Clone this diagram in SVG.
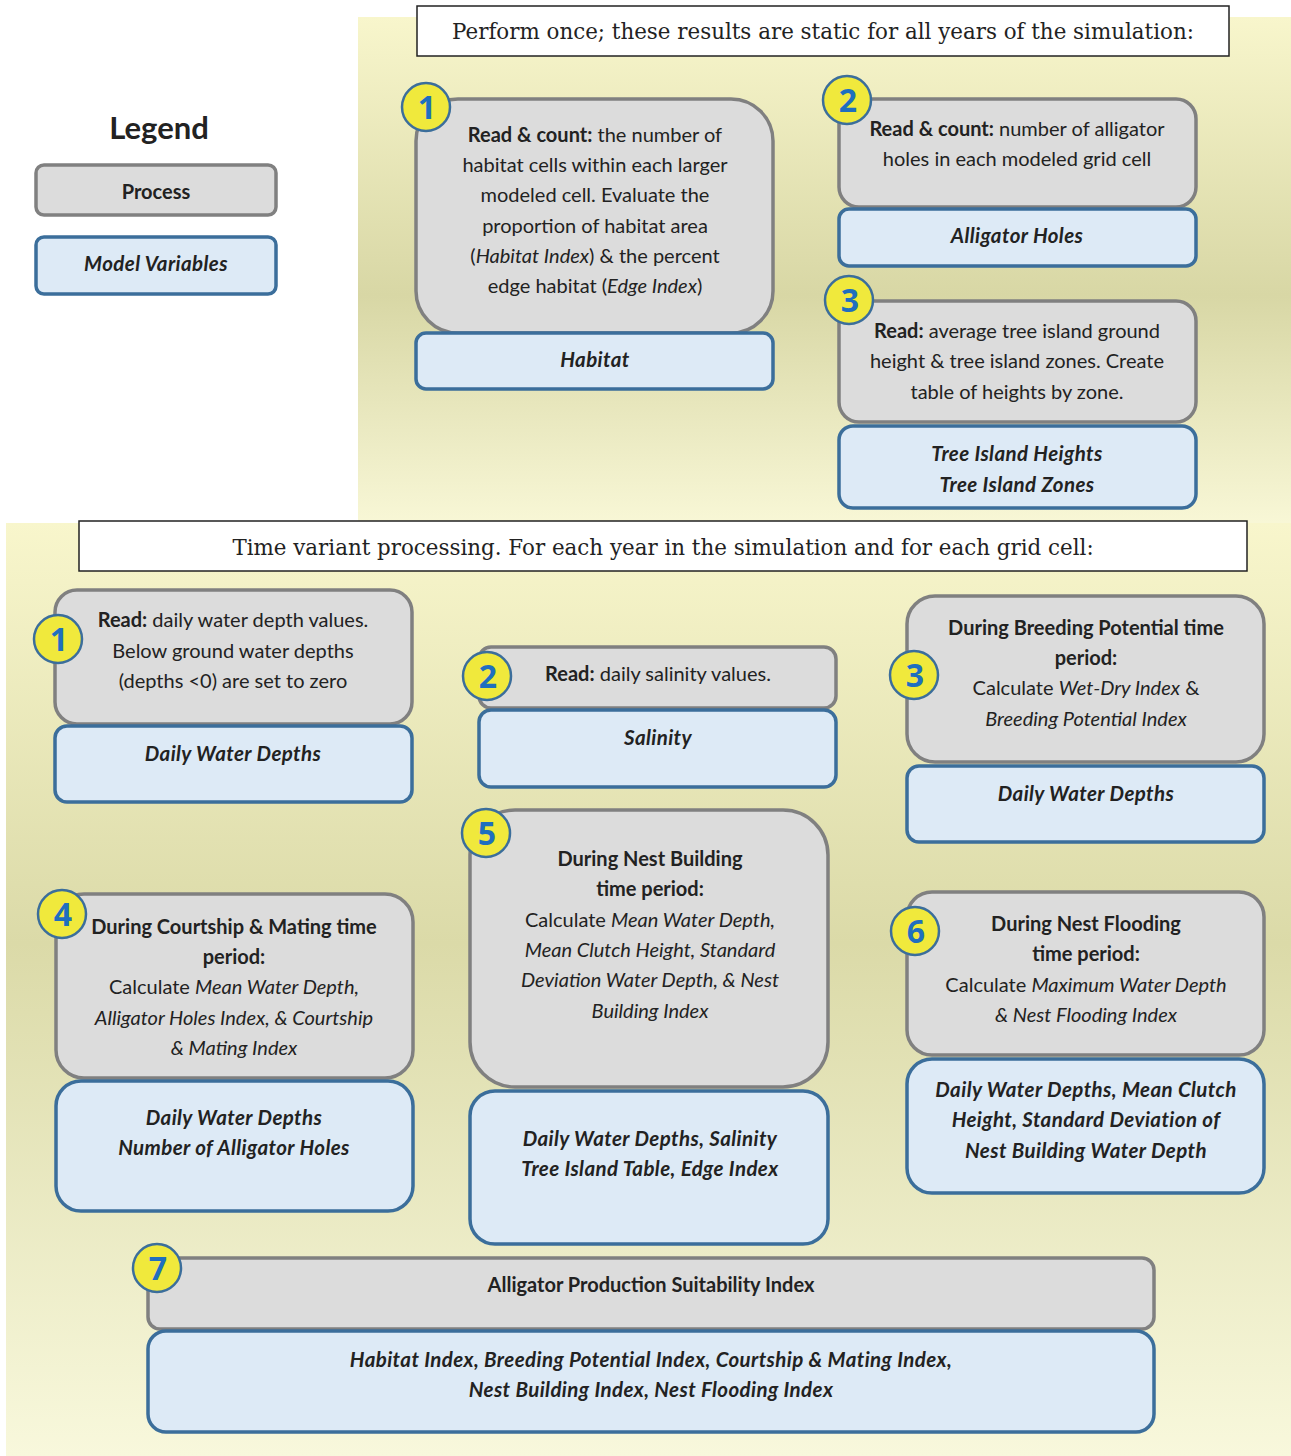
<svg xmlns="http://www.w3.org/2000/svg" width="1291" height="1456" viewBox="0 0 1291 1456">
<defs>
<linearGradient id="bgTop" x1="0" y1="0" x2="0" y2="1">
<stop offset="0" stop-color="#f8f6cc"/>
<stop offset="0.55" stop-color="#d8d7a5"/>
<stop offset="1" stop-color="#f8f7d6"/>
</linearGradient>
<linearGradient id="bgBot" x1="0" y1="0" x2="0" y2="1">
<stop offset="0" stop-color="#f8f6cc"/>
<stop offset="0.45" stop-color="#dbdaa8"/>
<stop offset="1" stop-color="#f8f8dc"/>
</linearGradient>
</defs>
<style>
.proc{fill:#dcdcdc;stroke:#808080;stroke-width:3.5}
.var{fill:#ddeaf6;stroke:#3b6e9b;stroke-width:3.5}
.title{fill:#fff;stroke:#222;stroke-width:1.5}
.tt{font-family:"DejaVu Serif","Liberation Serif",serif;font-size:21.4px;fill:#222;text-anchor:middle}
.t{font-family:Lato,"Open Sans",sans-serif;font-size:20px;fill:#222;text-anchor:middle}
.v{font-family:Lato,"Open Sans",sans-serif;font-size:20.5px;letter-spacing:0.4px;fill:#222;text-anchor:middle;font-style:italic;font-weight:bold}
.b{font-weight:bold}
.i{font-style:italic}
.num circle{fill:#f0e93c;stroke:#3b6e9b;stroke-width:2.5}
.num text{font-family:"Open Sans",Lato,sans-serif;font-size:32px;font-weight:bold;fill:#1f6fbf;text-anchor:middle}
</style>
<rect x="0" y="0" width="1291" height="1456" fill="#ffffff"/>
<rect x="358" y="17" width="933" height="506" fill="url(#bgTop)"/>
<rect x="6" y="523" width="1285" height="933" fill="url(#bgBot)"/>

<g id="title-top">
<rect class="title" x="417" y="6" width="812" height="50"/>
<text class="tt" x="823" y="39">Perform once; these results are static for all years of the simulation:</text>
</g>
<g id="title-bottom">
<rect class="title" x="79" y="521" width="1168" height="50"/>
<text class="tt" x="663" y="555">Time variant processing. For each year in the simulation and for each grid cell:</text>
</g>

<g id="legend">
<text x="159" y="139" font-family="Lato,'Open Sans',sans-serif" font-size="31" font-weight="bold" fill="#222" text-anchor="middle">Legend</text>
<rect class="proc" x="36" y="165" width="240" height="50" rx="8"/>
<text class="t b" x="156" y="199">Process</text>
<rect class="var" x="36" y="237" width="240" height="57" rx="8"/>
<text class="v" x="156" y="271">Model Variables</text>
</g>

<g id="s1">
<rect class="proc" x="416" y="99" width="357" height="234" rx="42"/>
<text class="t" x="595" y="142"><tspan class="b">Read &amp; count:</tspan> the number of</text>
<text class="t" x="595" y="172">habitat cells within each larger</text>
<text class="t" x="595" y="202">modeled cell. Evaluate the</text>
<text class="t" x="595" y="233">proportion of habitat area</text>
<text class="t" x="595" y="263">(<tspan class="i">Habitat Index</tspan>) &amp; the percent</text>
<text class="t" x="595" y="293">edge habitat (<tspan class="i">Edge Index</tspan>)</text>
<rect class="var" x="416" y="333" width="357" height="56" rx="10"/>
<text class="v" x="595" y="367">Habitat</text>
<g class="num"><circle cx="426" cy="107" r="24"/><text x="427" y="119">1</text></g>
</g>

<g id="s2">
<rect class="proc" x="839" y="99" width="357" height="108" rx="20"/>
<text class="t" x="1017" y="136"><tspan class="b">Read &amp; count:</tspan> number of alligator</text>
<text class="t" x="1017" y="166">holes in each modeled grid cell</text>
<rect class="var" x="839" y="209" width="357" height="57" rx="10"/>
<text class="v" x="1017" y="243">Alligator Holes</text>
<g class="num"><circle cx="847" cy="100" r="24"/><text x="848" y="112">2</text></g>
</g>

<g id="s3">
<rect class="proc" x="839" y="301" width="357" height="121" rx="20"/>
<text class="t" x="1017" y="338"><tspan class="b">Read:</tspan> average tree island ground</text>
<text class="t" x="1017" y="368">height &amp; tree island zones. Create</text>
<text class="t" x="1017" y="399">table of heights by zone.</text>
<rect class="var" x="839" y="426" width="357" height="82" rx="14"/>
<text class="v" x="1017" y="461">Tree Island Heights</text>
<text class="v" x="1017" y="492">Tree Island Zones</text>
<g class="num"><circle cx="849" cy="300" r="24"/><text x="850" y="312">3</text></g>
</g>

<g id="t1">
<rect class="proc" x="55" y="590" width="357" height="134" rx="22"/>
<text class="t" x="233" y="627"><tspan class="b">Read:</tspan> daily water depth values.</text>
<text class="t" x="233" y="658">Below ground water depths</text>
<text class="t" x="233" y="688">(depths &lt;0) are set to zero</text>
<rect class="var" x="55" y="726" width="357" height="76" rx="12"/>
<text class="v" x="233" y="761">Daily Water Depths</text>
<g class="num"><circle cx="58" cy="639" r="24"/><text x="59" y="651">1</text></g>
</g>

<g id="t2">
<rect class="proc" x="479" y="647" width="357" height="61" rx="12"/>
<text class="t" x="658" y="681"><tspan class="b">Read:</tspan> daily salinity values.</text>
<rect class="var" x="479" y="710" width="357" height="77" rx="12"/>
<text class="v" x="658" y="745">Salinity</text>
<g class="num"><circle cx="487" cy="676" r="24"/><text x="488" y="688">2</text></g>
</g>

<g id="t3">
<rect class="proc" x="907" y="596" width="357" height="166" rx="28"/>
<text class="t b" x="1086" y="635">During Breeding Potential time</text>
<text class="t b" x="1086" y="665">period:</text>
<text class="t" x="1086" y="695">Calculate <tspan class="i">Wet-Dry Index</tspan> &amp;</text>
<text class="t i" x="1086" y="726">Breeding Potential Index</text>
<rect class="var" x="907" y="766" width="357" height="76" rx="12"/>
<text class="v" x="1086" y="801">Daily Water Depths</text>
<g class="num"><circle cx="914" cy="675" r="24"/><text x="915" y="687">3</text></g>
</g>

<g id="t4">
<rect class="proc" x="56" y="894" width="357" height="184" rx="28"/>
<text class="t b" x="234" y="934">During Courtship &amp; Mating time</text>
<text class="t b" x="234" y="964">period:</text>
<text class="t" x="234" y="994">Calculate <tspan class="i">Mean Water Depth,</tspan></text>
<text class="t i" x="234" y="1025">Alligator Holes Index, &amp; Courtship</text>
<text class="t i" x="234" y="1055">&amp; Mating Index</text>
<rect class="var" x="56" y="1081" width="357" height="130" rx="25"/>
<text class="v" x="234" y="1125">Daily Water Depths</text>
<text class="v" x="234" y="1155">Number of Alligator Holes</text>
<g class="num"><circle cx="62" cy="914" r="24"/><text x="63" y="926">4</text></g>
</g>

<g id="t5">
<rect class="proc" x="470" y="810" width="358" height="277" rx="45"/>
<text class="t b" x="650" y="866">During Nest Building</text>
<text class="t b" x="650" y="896">time period:</text>
<text class="t" x="650" y="927">Calculate <tspan class="i">Mean Water Depth,</tspan></text>
<text class="t i" x="650" y="957">Mean Clutch Height, Standard</text>
<text class="t i" x="650" y="987">Deviation Water Depth, &amp; Nest</text>
<text class="t i" x="650" y="1018">Building Index</text>
<rect class="var" x="470" y="1091" width="358" height="153" rx="25"/>
<text class="v" x="650" y="1146">Daily Water Depths, Salinity</text>
<text class="v" x="650" y="1176">Tree Island Table, Edge Index</text>
<g class="num"><circle cx="486" cy="833" r="24"/><text x="487" y="845">5</text></g>
</g>

<g id="t6">
<rect class="proc" x="907" y="892" width="357" height="163" rx="25"/>
<text class="t b" x="1086" y="931">During Nest Flooding</text>
<text class="t b" x="1086" y="961">time period:</text>
<text class="t" x="1086" y="992">Calculate <tspan class="i">Maximum Water Depth</tspan></text>
<text class="t i" x="1086" y="1022">&amp; Nest Flooding Index</text>
<rect class="var" x="907" y="1059" width="357" height="134" rx="25"/>
<text class="v" x="1086" y="1097">Daily Water Depths, Mean Clutch</text>
<text class="v" x="1086" y="1127">Height, Standard Deviation of</text>
<text class="v" x="1086" y="1158">Nest Building Water Depth</text>
<g class="num"><circle cx="915" cy="931" r="24"/><text x="916" y="943">6</text></g>
</g>

<g id="t7">
<rect class="proc" x="148" y="1258" width="1006" height="71" rx="12"/>
<text class="t b" x="651" y="1292">Alligator Production Suitability Index</text>
<rect class="var" x="148" y="1331" width="1006" height="101" rx="18"/>
<text class="v" x="651" y="1367">Habitat Index, Breeding Potential Index, Courtship &amp; Mating Index,</text>
<text class="v" x="651" y="1397">Nest Building Index, Nest Flooding Index</text>
<g class="num"><circle cx="157" cy="1268" r="24"/><text x="158" y="1280">7</text></g>
</g>

<g id="connectors"></g>
</svg>
